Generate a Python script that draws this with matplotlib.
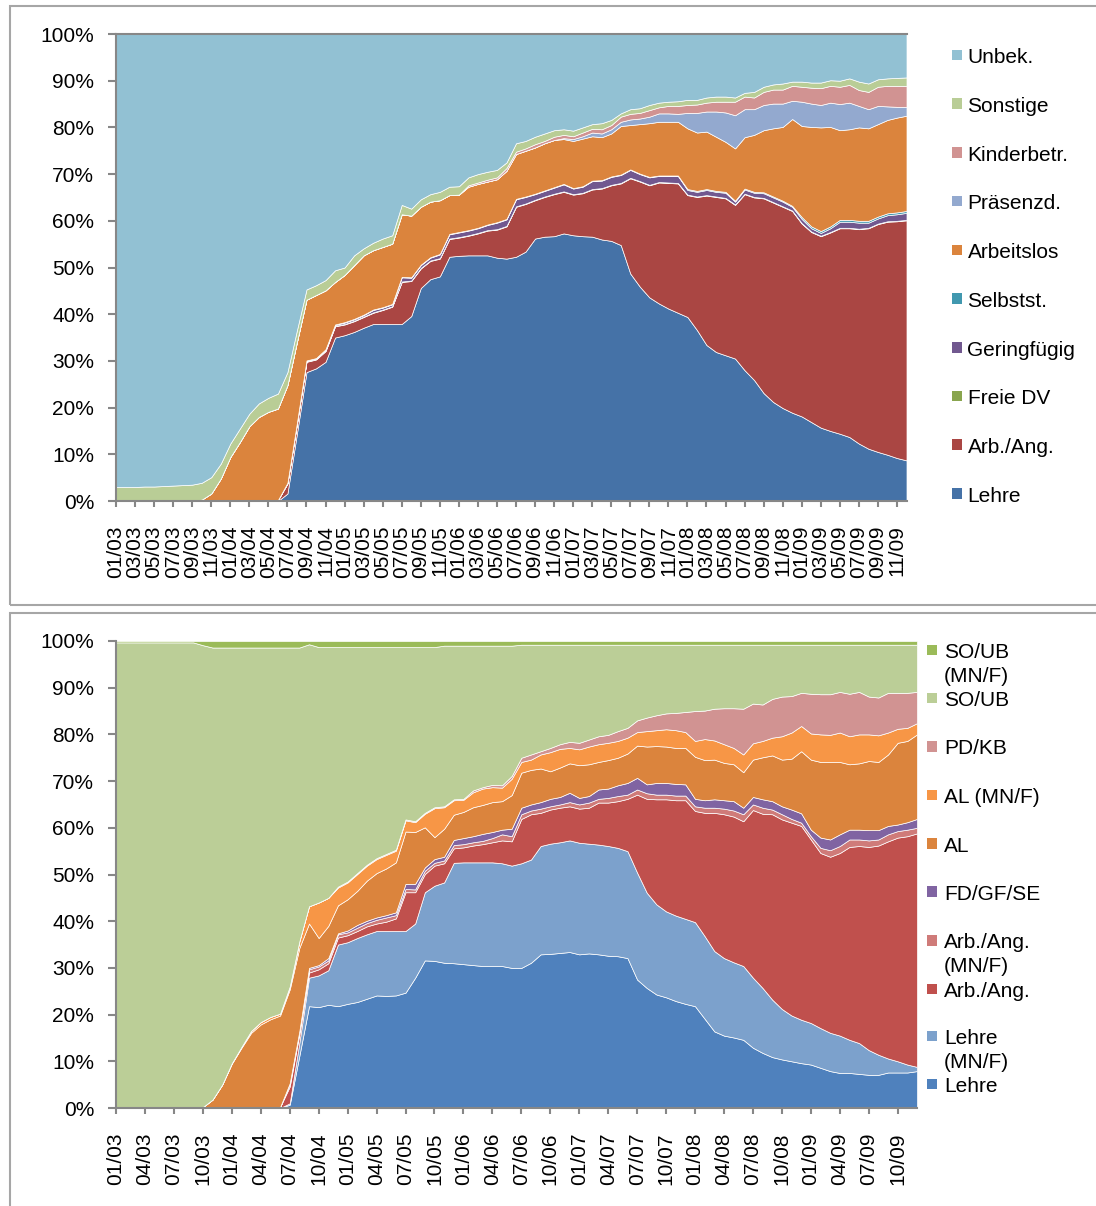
import matplotlib.pyplot as plt
import numpy as np
from matplotlib.patches import Rectangle

plt.rcParams["font.family"] = ["Liberation Sans", "DejaVu Sans"]

W, H = 1096, 1206

# Monate 01/03 .. 12/09
months = [f"{m:02d}/{y:02d}" for y in range(3, 10) for m in range(1, 13)]

# ---- oberes Diagramm (Anteile in %) ----
lehre_t = [0] * 18 + [1.6, 14.5, 27.6, 28.4, 29.8, 35.0, 35.5, 36.2, 37.1, 37.9, 37.9, 37.9, 37.9, 39.6, 45.6, 47.5,
                      48.1, 52.3, 52.5, 52.6, 52.6, 52.6, 52.1, 51.9, 52.3, 53.4, 56.2, 56.6, 56.7, 57.3, 56.9, 56.7,
                      56.6, 56.0, 55.7, 54.8, 48.7, 45.9, 43.6, 42.3, 41.2, 40.3, 39.4, 36.6, 33.4, 31.9, 31.2, 30.5,
                      28.0, 25.9, 23.1, 21.2, 19.9, 18.9, 18.1, 16.9, 15.7, 15.0, 14.4, 13.7, 12.3, 11.2, 10.5, 9.9,
                      9.2, 8.7]
arb_t = [0] * 17 + [0.2, 2.1, 2.0, 2.2, 1.9, 2.3, 2.4, 2.3, 2.3, 2.3, 2.4, 3.0, 3.7, 9.0, 7.5, 4.2, 3.9, 3.8, 3.8,
                    3.9, 4.2, 4.7, 5.3, 6.0, 6.9, 10.7, 10.2, 8.2, 8.5, 9.0, 8.9, 8.7, 9.2, 10.1, 10.9, 11.9, 13.2,
                    20.4, 22.5, 24.0, 25.9, 26.9, 27.7, 26.1, 28.5, 32.0, 33.2, 33.6, 32.9, 37.7, 39.1, 41.7, 42.7,
                    43.1, 43.2, 41.3, 40.7, 41.0, 42.5, 44.0, 44.7, 45.9, 47.2, 48.8, 49.9, 50.7, 51.4]
freie_t = [0] * 18 + [0.1] * 66
gering_t = [0] * 18 + [0.0, 0.1, 0.1, 0.1, 0.2, 0.2, 0.3, 0.3, 0.3, 0.5, 0.4, 0.4, 0.9, 0.6, 0.6, 0.6, 0.8, 0.9,
                       1.0, 1.0, 1.0, 1.1, 1.4, 1.4, 1.5, 1.4, 1.2, 1.2, 1.3, 1.5, 1.2, 1.3, 1.7, 1.6, 1.7, 1.7,
                       1.7, 1.5, 1.6, 1.3, 1.4, 1.5, 1.0, 1.0, 1.1, 1.0, 1.1, 0.6, 0.9, 0.9, 1.0, 1.0, 1.0, 0.8,
                       0.9, 0.7, 0.6, 0.8, 1.3, 1.3, 1.3, 1.1, 1.1, 1.3, 1.4, 1.5]
selbst_t = [0] * 18 + [0.1] * 42 + [0.2] * 12 + [0.4] * 12
arbeitslos_t = [0] * 9 + [0.3, 1.6, 4.8, 9.4, 12.6, 16.0, 18.0, 19.1, 19.6, 20.9, 17.3, 13.0, 13.5, 12.6, 9.1, 10.1,
                          11.5, 12.7, 12.7, 12.9, 12.9, 13.4, 13.2, 12.4, 11.9, 11.5, 8.3, 8.0, 9.3, 9.4, 9.2, 9.2,
                          10.3, 9.6, 9.8, 9.9, 10.1, 10.1, 9.6, 10.1, 10.2, 9.5, 9.2, 9.2, 10.4, 9.5, 10.6, 11.5,
                          11.5, 11.5, 11.5, 13.0, 12.5, 12.3, 11.6, 10.7, 11.2, 11.0, 12.2, 13.3, 14.6, 15.8, 18.6,
                          19.5, 21.3, 22.2, 21.3, 19.2, 19.4, 20.0, 19.8, 19.8, 20.0, 20.3, 20.4]
praesenz_t = [0] * 47 + [0.2, 0.4, 0.5, 0.8, 0.8, 0.9, 0.9, 1.2, 1.2, 1.4, 1.8, 1.8, 1.7, 3.3, 4.2, 4.3, 5.4, 6.3,
                         7.1, 6.0, 5.5, 5.4, 5.3, 5.0, 3.9, 5.2, 5.0, 4.8, 5.2, 5.6, 5.7, 4.6, 4.1, 3.9, 2.9, 2.3, 1.9]
kinder_t = [0] * 37 + [0.3, 0.3, 0.4, 0.4, 0.6, 0.5, 0.5, 0.7, 0.5, 0.7, 0.7, 0.6, 0.8, 0.8, 0.9, 0.9, 1.1, 1.2,
                       1.2, 1.4, 1.3, 1.6, 1.7, 1.7, 1.8, 1.9, 2.1, 2.3, 2.9, 2.7, 2.5, 2.8, 3.0, 3.0, 3.2, 3.2,
                       3.4, 3.6, 3.6, 3.7, 3.8, 3.4, 3.7, 4.1, 4.4, 4.5, 4.5]
sonstige_t = [3.0, 3.0, 3.0, 3.1, 3.1, 3.2, 3.3, 3.4, 3.5, 3.6, 3.5, 3.2, 2.9, 2.9, 2.7, 2.9, 3.0, 3.2, 2.8, 2.5,
              2.2, 2.1, 2.2, 2.5, 1.6, 2.1, 1.5, 1.6, 1.8, 1.8, 2.0, 1.5, 1.6, 1.6, 1.8, 1.8, 1.8, 1.7, 1.8, 1.7,
              1.6, 1.2, 1.8, 1.6, 1.6, 1.6, 1.4, 1.2, 1.2, 1.1, 1.0, 1.3, 1.1, 0.7, 1.0, 1.0, 1.1, 1.0, 0.9, 1.0,
              1.1, 1.0, 1.1, 1.1, 1.1, 0.9, 0.8, 1.2, 1.1, 1.1, 1.3, 0.9, 1.1, 1.1, 1.2, 1.2, 1.3, 1.4, 1.8, 1.8,
              1.6, 1.6, 1.7, 1.8]
unbek_t = [97.0, 97.0, 97.0, 96.9, 96.9, 96.8, 96.7, 96.6, 96.5, 96.1, 94.9, 92.0, 87.7, 84.5, 81.3, 79.1, 77.9,
           77.0, 72.4, 63.4, 54.7, 53.8, 52.7, 50.6, 50.0, 47.4, 45.9, 44.7, 43.8, 43.1, 36.6, 37.4, 35.4, 34.3,
           33.8, 32.7, 32.6, 30.7, 30.0, 29.5, 29.1, 27.5, 23.4, 22.9, 22.0, 21.3, 20.6, 20.4, 20.7, 20.0, 19.3,
           19.1, 18.4, 17.0, 16.1, 15.9, 15.2, 14.7, 14.5, 14.4, 14.1, 14.1, 13.6, 13.4, 13.4, 13.6, 12.6, 12.4,
           11.3, 10.8, 10.6, 10.2, 10.2, 10.4, 10.4, 9.9, 10.0, 9.5, 10.2, 10.6, 9.7, 9.5, 9.4, 9.3]

# ---- unteres Diagramm (Anteile in %) ----
lehre_b = [0] * 18 + [0.7, 11.2, 21.8, 21.6, 22.1, 21.8, 22.3, 22.7, 23.4, 24.1, 24.0, 24.1, 24.7, 27.9, 31.6, 31.5,
                      31.1, 31.0, 30.8, 30.6, 30.4, 30.4, 30.4, 30.0, 30.0, 31.1, 32.9, 33.0, 33.2, 33.4, 32.9, 33.1,
                      32.9, 32.6, 32.5, 32.1, 27.5, 25.7, 24.3, 23.7, 22.9, 22.3, 21.8, 19.1, 16.4, 15.5, 15.1, 14.6,
                      12.9, 11.8, 10.9, 10.4, 10.0, 9.6, 9.3, 8.6, 7.9, 7.5, 7.5, 7.3, 7.1, 7.1, 7.6, 7.6, 7.6, 7.9]
lehre_mn_b = [0] * 18 + [0.3, 2.8, 6.1, 6.8, 7.4, 13.2, 13.2, 13.7, 13.8, 13.8, 13.9, 13.8, 13.2, 11.6, 14.6, 16.1,
                         17.2, 21.5, 21.8, 22.0, 22.2, 22.2, 22.0, 21.9, 22.4, 22.1, 23.2, 23.6, 23.7, 23.9, 23.9,
                         23.5, 23.5, 23.5, 23.2, 22.9, 22.9, 20.4, 19.3, 18.4, 18.3, 18.2, 18.0, 17.7, 17.2, 16.6,
                         16.1, 15.8, 15.0, 13.9, 12.3, 10.8, 9.8, 9.3, 8.9, 8.5, 8.2, 8.0, 7.1, 6.6, 5.3, 4.3, 3.0,
                         2.4, 1.7, 0.9]
arb_b = [0] * 17 + [0.2, 3.6, 1.8, 1.1, 1.3, 1.5, 1.5, 1.5, 1.5, 1.7, 1.6, 2.0, 2.7, 8.3, 6.7, 3.9, 4.3, 4.1, 3.1,
                    3.2, 3.6, 3.9, 4.3, 4.9, 5.2, 9.5, 9.7, 7.1, 7.3, 7.4, 7.3, 7.3, 7.7, 9.0, 9.3, 10.0, 11.2, 16.7,
                    20.1, 22.5, 24.0, 24.7, 25.4, 23.8, 26.4, 29.6, 30.8, 31.2, 31.0, 35.9, 37.3, 39.7, 40.6, 41.3,
                    41.5, 39.3, 37.5, 37.7, 39.1, 41.3, 42.2, 43.5, 44.8, 46.5, 47.9, 48.9, 50.0]
arb_mn_b = [0] * 18 + [0.6, 0.5, 0.7, 0.6, 0.6, 0.7, 0.6, 0.7, 0.7, 0.8, 0.9, 0.7, 0.7, 0.6, 0.7, 0.6, 0.6, 0.7,
                       0.7, 0.7, 0.7, 0.9, 1.3, 1.1, 1.0, 0.8, 0.9, 0.7, 0.7, 0.9, 0.9, 1.1, 0.8, 1.0, 1.1, 0.9,
                       1.1, 1.2, 1.0, 1.0, 1.0, 1.0, 1.0, 1.1, 1.1, 1.2, 1.3, 1.5, 1.2, 1.3, 1.0, 1.1, 0.8, 0.7,
                       0.7, 1.1, 1.4, 1.5, 1.6, 1.4, 1.4, 1.3, 1.5, 1.4, 1.4, 1.2]
fd_b = [0] * 18 + [0.1, 0.2, 0.3, 0.3, 0.5, 0.2, 0.4, 0.6, 0.5, 0.5, 0.5, 0.6, 1.1, 1.2, 0.7, 0.8, 0.8, 1.1, 1.3,
                   1.3, 1.5, 1.3, 1.0, 1.6, 1.4, 1.3, 1.4, 1.6, 1.6, 2.0, 1.4, 1.4, 2.0, 2.0, 2.3, 2.5, 2.5, 1.9,
                   2.5, 2.5, 2.5, 2.4, 1.6, 1.6, 1.8, 1.8, 2.0, 1.4, 1.6, 1.8, 1.8, 1.7, 2.0, 2.0, 1.4, 2.2, 2.3,
                   2.5, 2.1, 2.1, 2.2, 2.0, 1.8, 1.4, 1.6, 1.9]
al_b = [0] * 9 + [0.2, 1.8, 5.0, 9.5, 12.9, 16.1, 17.9, 19.0, 19.6, 20.1, 17.8, 9.5, 5.8, 6.9, 6.0, 6.7, 7.3, 8.6,
                  9.5, 10.0, 10.7, 11.2, 11.1, 8.6, 4.7, 6.0, 5.4, 5.6, 6.2, 6.2, 6.4, 6.1, 7.2, 7.5, 7.4, 7.2, 5.9,
                  6.3, 6.3, 7.0, 6.8, 5.9, 6.1, 5.9, 6.3, 6.9, 8.1, 7.9, 7.8, 7.7, 7.8, 9.0, 8.6, 8.5, 8.0, 7.9, 7.6,
                  8.0, 9.0, 9.8, 10.0, 10.9, 13.3, 15.0, 16.2, 16.6, 15.5, 14.0, 14.2, 14.8, 14.6, 15.3, 17.5, 17.4,
                  18.1]
al_mn_b = [0] * 12 + [0.1, 0.2, 0.4, 0.5, 0.5, 0.4, 0.6, 1.4, 3.7, 7.6, 6.0, 3.8, 3.6, 3.6, 3.2, 3.0, 2.9, 2.5, 2.4,
                      2.1, 2.9, 6.2, 4.6, 3.1, 2.6, 3.2, 3.5, 3.2, 2.9, 3.5, 2.3, 2.2, 3.0, 4.1, 4.0, 3.3, 3.4, 3.8,
                      3.8, 3.7, 3.6, 3.4, 2.9, 3.3, 3.4, 3.7, 3.8, 3.4, 3.4, 4.5, 4.1, 4.0, 3.5, 3.8, 3.5, 3.5, 3.8,
                      5.0, 5.6, 5.4, 5.6, 5.9, 5.8, 6.3, 6.0, 6.2, 5.7, 5.7, 4.7, 3.0, 2.8, 2.4]
pd_b = [0] * 23 + [0.2] * 14 + [0.4, 0.3, 0.5, 0.5, 0.6, 0.9, 1.1, 0.7, 0.9, 1.0, 1.3, 1.4, 1.5, 1.7, 1.7, 2.1, 2.1,
                                2.5, 2.9, 3.2, 3.4, 3.7, 4.3, 6.4, 6.1, 6.8, 7.7, 8.5, 9.8, 8.5, 7.8, 8.3, 8.5, 7.8,
                                7.1, 8.5, 8.6, 8.7, 8.7, 9.1, 9.1, 8.1, 8.1, 8.5, 7.7, 7.5, 6.7]
so_b = [99.7] * 9 + [98.9, 96.8, 93.6, 89.0, 85.5, 82.1, 80.2, 79.1, 78.4, 72.6, 62.9, 56.1, 54.7, 53.7, 51.3, 50.2,
                     48.4, 46.6, 45.2, 44.3, 43.4, 36.9, 37.3, 35.5, 34.3, 34.4, 32.9, 32.8, 31.0, 30.3, 29.8, 29.9,
                     27.9, 24.2, 23.5, 22.8, 22.1, 21.3, 20.8, 21.0, 20.3, 19.6, 19.3, 18.5, 17.8, 16.2, 15.6, 15.1,
                     14.7, 14.6, 14.4, 14.2, 14.1, 13.7, 13.6, 13.6, 13.7, 12.6, 12.8, 11.6, 11.1, 11.0, 10.3, 10.5,
                     10.6, 10.6, 10.1, 10.5, 10.1, 11.1, 11.3, 10.3, 10.3, 10.3, 10.1]
so_mn_b = [0.3] * 9 + [0.9] + [1.4] * 10 + [0.7] + [1.3] * 13 + [1.0] * 8 + [0.8] * 42

top_series = [lehre_t, arb_t, freie_t, gering_t, selbst_t, arbeitslos_t, praesenz_t, kinder_t, sonstige_t, unbek_t]
top_labels = ["Lehre", "Arb./Ang.", "Freie DV", "Geringfügig", "Selbstst.", "Arbeitslos", "Präsenzd.",
              "Kinderbetr.", "Sonstige", "Unbek."]
top_colors = ["#4572A7", "#AA4643", "#89A54E", "#71588F", "#4198AF", "#DB843D", "#93A9CF", "#D19392",
              "#B9CD96", "#92C1D3"]

bot_series = [lehre_b, lehre_mn_b, arb_b, arb_mn_b, fd_b, al_b, al_mn_b, pd_b, so_b, so_mn_b]
bot_labels = ["Lehre", "Lehre\n(MN/F)", "Arb./Ang.", "Arb./Ang.\n(MN/F)", "FD/GF/SE", "AL", "AL (MN/F)",
              "PD/KB", "SO/UB", "SO/UB\n(MN/F)"]
bot_colors = ["#4F81BD", "#7CA1CC", "#C0504D", "#CF7B79", "#8064A2", "#DB843D", "#F79646", "#D19392",
              "#BBCE97", "#9BBB59"]

GREY = "#878787"


def fx(px):
    return px / W


def fy(py):
    return 1 - py / H


def draw_panel(ax, series, colors, step, top_spine):
    x = np.arange(len(months))
    vals = np.array(series, dtype=float)
    vals = vals / vals.sum(axis=0) * 100  # 100%-Stapel
    ax.stackplot(x, vals, colors=colors, edgecolor="white", linewidth=0.5)
    ax.set_xlim(0, len(months) - 1)
    ax.set_ylim(0, 100)
    ax.set_yticks(range(0, 101, 10))
    ax.set_yticklabels([f"{v}%" for v in range(0, 101, 10)], fontsize=15)
    ticks = list(range(0, len(months), step))
    ax.set_xticks(ticks)
    ax.set_xticklabels([months[i] for i in ticks], rotation=90, fontsize=15)
    ax.tick_params(axis="x", length=4.5, width=1.5, color=GREY, pad=13)
    ax.tick_params(axis="y", length=5.8, width=1.5, color=GREY, pad=10)
    for s in ["left", "bottom"]:
        ax.spines[s].set_color(GREY)
        ax.spines[s].set_linewidth(1.5)
    ax.spines["right"].set_visible(False)
    ax.spines["top"].set_visible(top_spine)
    ax.spines["top"].set_color(GREY)
    ax.spines["top"].set_linewidth(1.5)


fig = plt.figure(figsize=(W / 100, H / 100), dpi=100)

# Rahmen der beiden Diagramme
fig.patches.append(Rectangle((fx(10), fy(605)), fx(1100) - fx(10), fy(6) - fy(605), transform=fig.transFigure,
                             fill=False, edgecolor="#A6A6A6", linewidth=1.5))
fig.patches.append(Rectangle((fx(10), fy(1215)), fx(1100) - fx(10), fy(613) - fy(1215), transform=fig.transFigure,
                             fill=False, edgecolor="#A6A6A6", linewidth=1.5))

ax1 = fig.add_axes([fx(116), fy(501), fx(906.5) - fx(116), fy(34) - fy(501)])
draw_panel(ax1, top_series, top_colors, 2, True)

ax2 = fig.add_axes([fx(116), fy(1108), fx(917) - fx(116), fy(641) - fy(1108)])
draw_panel(ax2, bot_series, bot_colors, 3, False)

# Legende oben (von oben nach unten)
for k, idx in enumerate(range(len(top_labels) - 1, -1, -1)):
    base = 63.3 + 48.7 * k
    fig.patches.append(Rectangle((fx(952), fy(base - 3)), fx(10), fy(0) - fy(10.5), transform=fig.transFigure,
                                 facecolor=top_colors[idx], edgecolor="none"))
    fig.text(fx(967.5), fy(base), top_labels[idx], fontsize=15, va="baseline", ha="left")

# Legende unten
bot_base = [658, 706, 754.5, 803, 851.5, 899.5, 948.5, 997, 1044, 1092]
for k, idx in enumerate(range(len(bot_labels) - 1, -1, -1)):
    base = bot_base[k]
    fig.patches.append(Rectangle((fx(927), fy(base - 3)), fx(10), fy(0) - fy(10.5), transform=fig.transFigure,
                                 facecolor=bot_colors[idx], edgecolor="none"))
    for j, line in enumerate(bot_labels[idx].split("\n")):
        fig.text(fx(944), fy(base + 23.5 * j), line, fontsize=15, va="baseline", ha="left")

fig.savefig("out.png", dpi=100)
